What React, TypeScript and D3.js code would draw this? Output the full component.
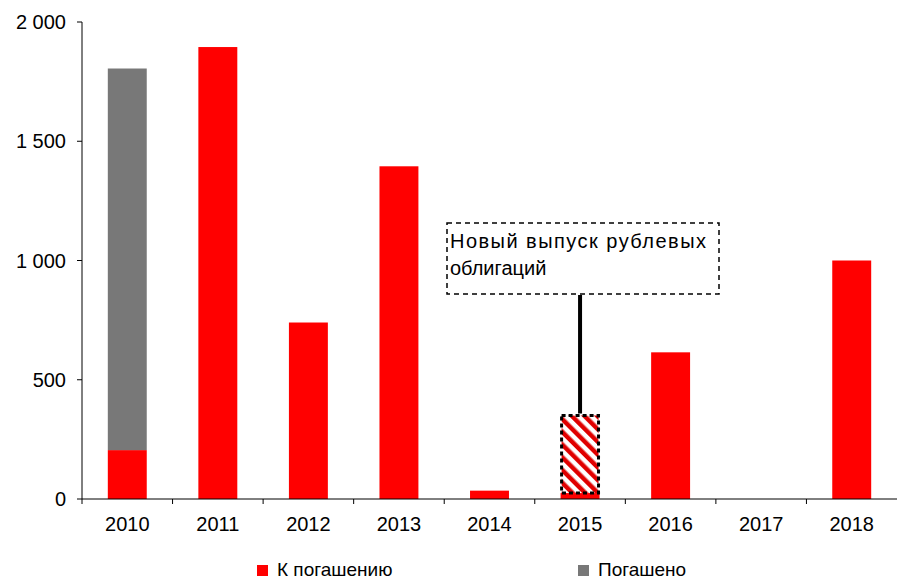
import * as d3 from "d3";
import React from "react";

const years = ["2010", "2011", "2012", "2013", "2014", "2015", "2016", "2017", "2018"];
const toRepay = [205, 1895, 740, 1395, 35, 25, 615, 0, 1000];
const repaid = [1600, 0, 0, 0, 0, 0, 0, 0, 0];
const newIssue = [0, 0, 0, 0, 0, 325, 0, 0, 0];
const yTicks = [0, 500, 1000, 1500, 2000];
const noteLines = ["Новый выпуск рублевых", "облигаций"];

const W = 897;
const H = 581;
const margin = { top: 22, right: 0, bottom: 82, left: 82 };
const font = "'Liberation Sans', Arial, sans-serif";

const fmt = (v: number) => d3.format(",")(v).replace(/,/g, " ");

const App = () => {
  const x = d3
    .scaleBand()
    .domain(years)
    .range([margin.left, W - margin.right])
    .paddingInner(0.57)
    .paddingOuter(0.285);
  const y = d3.scaleLinear().domain([0, 2000]).range([H - margin.bottom, margin.top]);
  const y0 = y(0);
  const step = x.step();
  const bw = x.bandwidth();

  // annotation attaches to the 2015 hatched bar
  const iNote = years.indexOf("2015");
  const noteX = (x("2015") ?? 0) + bw / 2;
  const noteTop = toRepay[iNote] + newIssue[iNote];

  return (
    <svg width={W} height={H} style={{ position: "absolute", left: 0, top: 0 }} fontFamily={font}>
      <defs>
        <pattern id="hatch" patternUnits="userSpaceOnUse" width={9} height={9} patternTransform="rotate(-45)">
          <rect width={9} height={9} fill="#fff" />
          <rect width={4.5} height={9} fill="#e00000" />
        </pattern>
      </defs>

      {/* y axis */}
      <line x1={margin.left} x2={margin.left} y1={margin.top} y2={y0} stroke="#000" />
      {yTicks.map((t) => (
        <g key={t}>
          <line x1={margin.left - 5} x2={margin.left} y1={y(t)} y2={y(t)} stroke="#000" />
          <text x={margin.left - 16} y={y(t)} dy="0.35em" textAnchor="end" fontSize={20}>
            {fmt(t)}
          </text>
        </g>
      ))}

      {/* bars */}
      {years.map((yr, i) => {
        const bx = x(yr) ?? 0;
        return (
          <g key={yr}>
            {toRepay[i] > 0 && (
              <rect x={bx} width={bw} y={y(toRepay[i])} height={y0 - y(toRepay[i])} fill="#ff0000" />
            )}
            {repaid[i] > 0 && (
              <rect
                x={bx}
                width={bw}
                y={y(toRepay[i] + repaid[i])}
                height={y(toRepay[i]) - y(toRepay[i] + repaid[i])}
                fill="#787878"
              />
            )}
            {newIssue[i] > 0 && (
              <rect
                x={bx + 1}
                width={bw - 2}
                y={y(toRepay[i] + newIssue[i])}
                height={y(toRepay[i]) - y(toRepay[i] + newIssue[i])}
                fill="url(#hatch)"
                stroke="#000"
                strokeWidth={3}
                strokeDasharray="4 3"
              />
            )}
          </g>
        );
      })}

      {/* x axis */}
      <line x1={margin.left} x2={W - margin.right} y1={y0} y2={y0} stroke="#000" />
      {years.map((yr, i) => (
        <g key={yr}>
          <line
            x1={margin.left + i * step}
            x2={margin.left + i * step}
            y1={y0}
            y2={y0 + 5}
            stroke="#000"
          />
          <text x={(x(yr) ?? 0) + bw / 2} y={y0 + 32} textAnchor="middle" fontSize={20}>
            {yr}
          </text>
        </g>
      ))}

      {/* annotation */}
      <line x1={noteX} x2={noteX} y1={y(noteTop) - 2} y2={295} stroke="#000" strokeWidth={4} />
      <rect
        x={447}
        y={223}
        width={272}
        height={71}
        fill="#fff"
        stroke="#000"
        strokeWidth={1.5}
        strokeDasharray="5 4"
      />
      <text x={450} y={248} fontSize={20} textLength={256} lengthAdjust="spacing">
        {noteLines[0]}
      </text>
      <text x={450} y={275} fontSize={20}>
        {noteLines[1]}
      </text>

      {/* legend */}
      <rect x={257} y={565} width={11} height={11} fill="#ff0000" />
      <text x={277} y={576} fontSize={19}>
        К погашению
      </text>
      <rect x={578} y={565} width={11} height={11} fill="#787878" />
      <text x={598} y={576} fontSize={19}>
        Погашено
      </text>
    </svg>
  );
};

export default App;
